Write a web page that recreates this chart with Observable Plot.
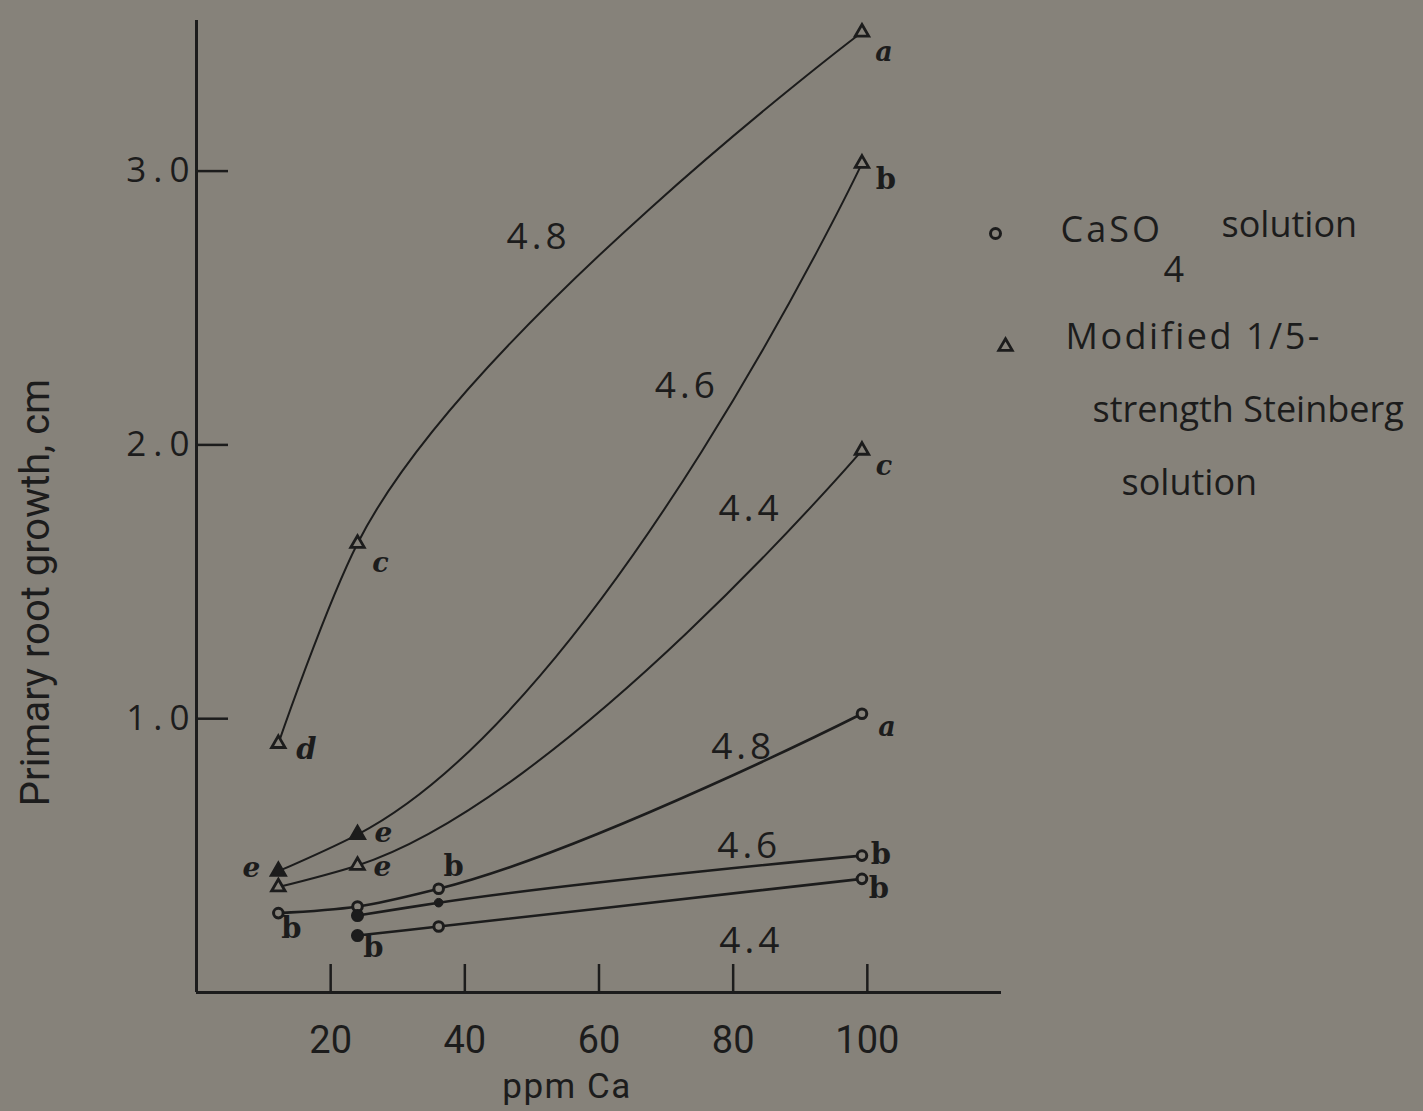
<!DOCTYPE html>
<html>
<head>
<meta charset="utf-8">
<script src="https://cdn.jsdelivr.net/npm/d3@7"></script>
<script src="https://cdn.jsdelivr.net/npm/@observablehq/plot@0.6"></script>
<style>
  html, body { margin: 0; padding: 0; background: #86827a; }
  #chart svg { display: block; }
</style>
</head>
<body>
<div id="chart"></div>
<script>
// ---- Data: primary root growth (cm) against calcium supply (ppm Ca) ----
// Calcium levels tested
const steinbergPpm = [12.2, 24, 99.2];
const casoPpm48 = [12.2, 24, 36.1, 99.2];
const casoPpm = [24, 36.1, 99.2];

// Modified 1/5-strength Steinberg solution, by pH
const steinberg48 = [0.909, 1.640, 3.507];
const steinberg46 = [0.443, 0.577, 3.028];
const steinberg44 = [0.385, 0.464, 1.980];

// CaSO4 solution, by pH
const caso48 = [0.290, 0.314, 0.379, 1.018];
const caso46 = [0.281, 0.328, 0.500];
const caso44 = [0.208, 0.241, 0.415];

// Significance letters printed beside the means ("" = none)
const steinbergLetters48 = ["d", "c", "a"];
const steinbergLetters46 = ["e", "e", "b"];
const steinbergLetters44 = ["", "e", "c"];
const casoLetters48 = ["b", "", "b", "a"];
const casoLetters46 = ["", "", "b"];
const casoLetters44 = ["b", "", "b"];

// Axis ticks
const xTicks = [20, 40, 60, 80, 100];
const yTicks = [1, 2, 3];

// pH labels written along the curves
const phLabels = ["4.8", "4.6", "4.4", "4.8", "4.6", "4.4"];

// ---- Layout and styling ----
const INK = "#1c1c1c";
const PAPER = "#86827a";

// where each pH label sits (data coordinates)
const phLabelPlacement = [
  {ppm: 50.7, growth: 2.757}, {ppm: 72.8, growth: 2.213}, {ppm: 82.3, growth: 1.764},
  {ppm: 81.2, growth: 0.895}, {ppm: 82.1, growth: 0.533}, {ppm: 82.4, growth: 0.186}
];

// pixel offsets of each significance letter from its point
const letterOffset = {
  "Steinberg 4.8": [[28, 6], [23, 20], [22, 20]],
  "Steinberg 4.6": [[-27, -3], [26, -1], [24, 16]],
  "Steinberg 4.4": [null, [25, 2], [22, 16]],
  "CaSO4 4.8": [[13, 16], null, [15, -22], [25, 14]],
  "CaSO4 4.6": [null, null, [19, -1]],
  "CaSO4 4.4": [[16, 12], null, [17, 10]]
};

// solid (filled) markers, by series and point index
const solidMarkers = {
  "Steinberg 4.6": [0, 1],
  "CaSO4 4.6": [0],
  "CaSO4 4.4": [0]
};
const smallSolidMarkers = {"CaSO4 4.6": [1]};

const series = [
  {solution: "Steinberg", ph: "4.8", ppm: steinbergPpm, growth: steinberg48, letters: steinbergLetters48},
  {solution: "Steinberg", ph: "4.6", ppm: steinbergPpm, growth: steinberg46, letters: steinbergLetters46},
  {solution: "Steinberg", ph: "4.4", ppm: steinbergPpm, growth: steinberg44, letters: steinbergLetters44},
  {solution: "CaSO4", ph: "4.8", ppm: casoPpm48, growth: caso48, letters: casoLetters48},
  {solution: "CaSO4", ph: "4.6", ppm: casoPpm, growth: caso46, letters: casoLetters46},
  {solution: "CaSO4", ph: "4.4", ppm: casoPpm, growth: caso44, letters: casoLetters44}
];

const points = series.flatMap(s => s.ppm.map((ppm, i) => {
  const key = `${s.solution} ${s.ph}`;
  return {
    key, i, ppm, growth: s.growth[i], solution: s.solution, letter: s.letters[i],
    solid: (solidMarkers[key] || []).includes(i),
    small: (smallSolidMarkers[key] || []).includes(i)
  };
}));

const steinbergPts = points.filter(d => d.solution === "Steinberg");
const casoPts = points.filter(d => d.solution === "CaSO4");

// smooth curves through the means
const fitCurve = d3.curveCatmullRom.alpha(1);

// significance letters, one text mark per offset
const letterMarks = points
  .filter(d => d.letter)
  .map(d => {
    const [dx, dy] = letterOffset[d.key][d.i];
    return Plot.text([d], {
      x: "ppm", y: "growth", text: "letter", dx, dy,
      fontFamily: "'DejaVu Serif', serif",
      fontStyle: d.letter === "b" ? "normal" : "italic",
      fontWeight: "bold",
      fontSize: d.letter === "e" ? 28 : (d.letter === "b" || d.letter === "d" ? 29 : 27),
      fill: INK
    });
  });

// legend, to the right of the frame (offsets from the frame's top-left corner)
const legendText = [
  {text: "CaSO", dx: 864, dy: 210},
  {text: "4", dx: 967, dy: 250},
  {text: "solution", dx: 1025, dy: 205},
  {text: "Modified 1/5-", dx: 869, dy: 317},
  {text: "strength Steinberg", dx: 896, dy: 390},
  {text: "solution", dx: 925, dy: 463}
];
const letterSpacing = {"CaSO": 3, "Modified 1/5-": 2.5, "3.0": 7, "2.0": 7, "1.0": 7, "4.8": 4, "4.6": 4, "4.4": 4, "ppm Ca": 1.5};

const chart = Plot.plot({
  width: 1423,
  height: 1111,
  marginLeft: 196,
  marginRight: 422,
  marginTop: 20,
  marginBottom: 119,
  x: {domain: [0, 120]},
  y: {domain: [0, 3.55]},
  style: {background: PAPER, color: INK, fontFamily: "'Open Sans', sans-serif", overflow: "visible"},
  marks: [
    // axes with inward ticks
    Plot.ruleX([0], {stroke: INK, strokeWidth: 3}),
    Plot.ruleY([0], {stroke: INK, strokeWidth: 3}),
    Plot.tickX(xTicks, {x: d => d, insetTop: 944, stroke: INK, strokeWidth: 2.5}),
    Plot.tickY(yTicks, {y: d => d, insetRight: 773, stroke: INK, strokeWidth: 2.5}),
    Plot.axisX({ticks: xTicks, tickSize: 0, tickPadding: 34, fontSize: 38, fontFamily: "Roboto", label: null}),
    Plot.axisY({ticks: yTicks, tickSize: 0, tickPadding: 0, fontSize: 35, tickFormat: d => d.toFixed(1), label: null}),
    Plot.text(["ppm Ca"], {frameAnchor: "bottom", textAnchor: "middle", lineAnchor: "middle", dx: -32, dy: 94, fontSize: 35, fontFamily: "Roboto", fill: INK}),
    Plot.text(["Primary root growth, cm"], {frameAnchor: "left", textAnchor: "middle", lineAnchor: "middle", rotate: -90, dx: -160, dy: 86, fontSize: 40, fontFamily: "Roboto", fill: INK}),

    // fitted curves
    Plot.line(steinbergPts, {x: "ppm", y: "growth", z: "key", curve: fitCurve, stroke: INK, strokeWidth: 2}),
    Plot.line(casoPts, {x: "ppm", y: "growth", z: "key", curve: fitCurve, stroke: INK, strokeWidth: 2.6}),

    // means
    Plot.dot(steinbergPts.filter(d => !d.solid), {x: "ppm", y: "growth", symbol: "triangle", r: 5, fill: PAPER, stroke: INK, strokeWidth: 2.8}),
    Plot.dot(steinbergPts.filter(d => d.solid), {x: "ppm", y: "growth", symbol: "triangle", r: 5.5, fill: INK, stroke: INK, strokeWidth: 2.4}),
    Plot.dot(casoPts.filter(d => !d.solid && !d.small), {x: "ppm", y: "growth", r: 4.8, fill: PAPER, stroke: INK, strokeWidth: 3}),
    Plot.dot(casoPts.filter(d => d.solid), {x: "ppm", y: "growth", r: 5.8, fill: INK, stroke: INK, strokeWidth: 1.5}),
    Plot.dot(casoPts.filter(d => d.small), {x: "ppm", y: "growth", r: 4.3, fill: INK, stroke: INK, strokeWidth: 1}),

    ...letterMarks,

    // pH of each curve
    Plot.text(phLabelPlacement, {x: "ppm", y: "growth", text: (d, i) => phLabels[i], dx: 2, fontSize: 37, fill: INK}),

    // legend
    Plot.dot([0], {frameAnchor: "top-left", dx: 799, dy: 213, r: 5, fill: PAPER, stroke: INK, strokeWidth: 3}),
    Plot.dot([0], {frameAnchor: "top-left", dx: 809, dy: 326, symbol: "triangle", r: 5, fill: PAPER, stroke: INK, strokeWidth: 2.8}),
    ...legendText.map(t => Plot.text([t.text], {frameAnchor: "top-left", textAnchor: "start", lineAnchor: "middle", dx: t.dx, dy: t.dy, fontSize: 36, fill: INK}))
  ]
});

for (const t of chart.querySelectorAll("text")) {
  const s = letterSpacing[t.textContent];
  if (s != null) t.style.letterSpacing = s + "px";
}

document.getElementById("chart").append(chart);
</script>
</body>
</html>
